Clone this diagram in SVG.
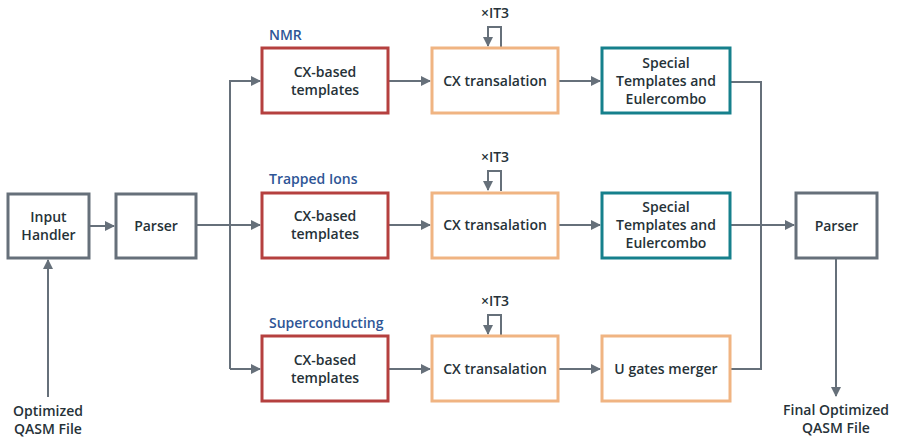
<svg xmlns="http://www.w3.org/2000/svg" width="898" height="438" viewBox="0 0 898 438">
<style>
.box{fill:#fff;stroke-width:3}
.g{stroke:#66707a}
.r{stroke:#b5403f}
.o{stroke:#f0b482}
.t{stroke:#16808c}
.tx{font-family:"Open Sans","DejaVu Sans",sans-serif;font-size:14px;fill:#263238;text-anchor:middle;font-weight:600}
.lb{font-family:"Open Sans","DejaVu Sans",sans-serif;font-size:14px;fill:#2e5596;font-weight:600}
.c{fill:none;stroke:#66707a;stroke-width:2}
</style>
<defs>
<marker id="a" viewBox="0 0 10 10" refX="9" refY="5" markerWidth="5" markerHeight="5" orient="auto"><path d="M0,0L10,5L0,10z" fill="#66707a"/></marker>
</defs>
<g id="connectors">
<path class="c" d="M48,397V260" marker-end="url(#a)"/>
<path class="c" d="M89,226H114" marker-end="url(#a)"/>
<path class="c" d="M196,225H260" marker-end="url(#a)"/>
<path class="c" d="M230,369V81H260" marker-end="url(#a)"/>
<path class="c" d="M230,369H260" marker-end="url(#a)"/>
<path class="c" d="M388,81H430" marker-end="url(#a)"/>
<path class="c" d="M388,225H430" marker-end="url(#a)"/>
<path class="c" d="M388,369H430" marker-end="url(#a)"/>
<path class="c" d="M558,81H600" marker-end="url(#a)"/>
<path class="c" d="M558,225H600" marker-end="url(#a)"/>
<path class="c" d="M558,369H600" marker-end="url(#a)"/>
<path class="c" d="M501,47V27H488V46" marker-end="url(#a)"/>
<path class="c" d="M501,191V171H488V190" marker-end="url(#a)"/>
<path class="c" d="M501,335V315H488V334" marker-end="url(#a)"/>
<path class="c" d="M730,82H761V369H730"/>
<path class="c" d="M730,225H794" marker-end="url(#a)"/>
<path class="c" d="M836,258V396" marker-end="url(#a)"/>
</g>
<g id="input"><rect class="box g" x="8" y="194" width="81" height="64"/><text class="tx" x="48.5" y="222">Input</text><text class="tx" x="48.5" y="240">Handler</text></g>
<g id="parser1"><rect class="box g" x="116" y="194" width="80" height="64"/><text class="tx" x="156" y="231">Parser</text></g>
<g id="nmr-label"><text class="lb" x="269" y="40">NMR</text></g>
<g id="ti-label"><text class="lb" x="269" y="184">Trapped Ions</text></g>
<g id="sc-label"><text class="lb" x="269" y="328">Superconducting</text></g>
<g id="cx1"><rect class="box r" x="262" y="48" width="126" height="65"/><text class="tx" x="325" y="77">CX-based</text><text class="tx" x="325" y="95">templates</text></g>
<g id="cx2"><rect class="box r" x="262" y="193" width="126" height="65"/><text class="tx" x="325" y="221">CX-based</text><text class="tx" x="325" y="239">templates</text></g>
<g id="cx3"><rect class="box r" x="262" y="336" width="126" height="65"/><text class="tx" x="325" y="365">CX-based</text><text class="tx" x="325" y="383">templates</text></g>
<g id="tr1"><rect class="box o" x="432" y="48" width="126" height="65"/><text class="tx" x="495" y="86">CX transalation</text><text class="tx" x="495" y="18">×IT3</text></g>
<g id="tr2"><rect class="box o" x="432" y="193" width="126" height="65"/><text class="tx" x="495" y="230">CX transalation</text><text class="tx" x="495" y="162">×IT3</text></g>
<g id="tr3"><rect class="box o" x="432" y="336" width="126" height="65"/><text class="tx" x="495" y="374">CX transalation</text><text class="tx" x="495" y="306">×IT3</text></g>
<g id="sp1"><rect class="box t" x="602" y="48" width="128" height="65"/><text class="tx" x="666" y="68">Special</text><text class="tx" x="666" y="86">Templates and</text><text class="tx" x="666" y="104">Eulercombo</text></g>
<g id="sp2"><rect class="box t" x="602" y="193" width="128" height="65"/><text class="tx" x="666" y="212">Special</text><text class="tx" x="666" y="230">Templates and</text><text class="tx" x="666" y="248">Eulercombo</text></g>
<g id="ug"><rect class="box o" x="602" y="336" width="128" height="65"/><text class="tx" x="666" y="374">U gates merger</text></g>
<g id="parser2"><rect class="box g" x="796" y="193" width="81" height="65"/><text class="tx" x="836.5" y="231">Parser</text></g>
<g id="in-label"><text class="tx" x="48" y="416">Optimized</text><text class="tx" x="48" y="434">QASM File</text></g>
<g id="out-label"><text class="tx" x="836" y="415">Final Optimized</text><text class="tx" x="836" y="433">QASM File</text></g>
</svg>
